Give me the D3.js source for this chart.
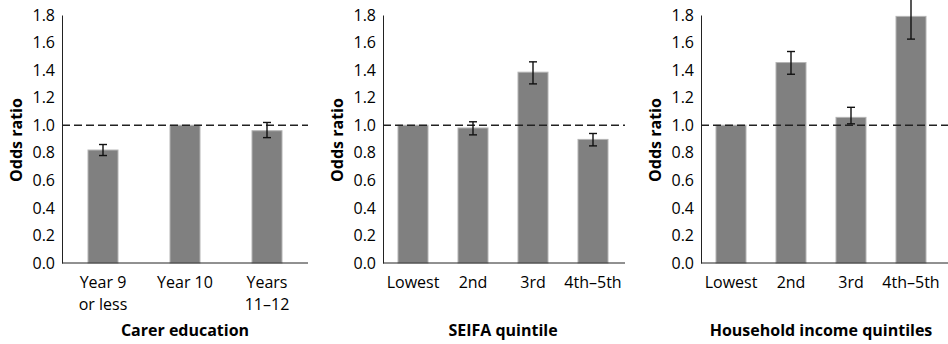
<!DOCTYPE html>
<html>
<head>
<meta charset="utf-8">
<script src="https://cdn.jsdelivr.net/npm/d3@7"></script>
<style>
  body { margin: 0; background: #fff; }
  svg { display: block; font-family: "Open Sans", sans-serif; }
</style>
</head>
<body>
<svg width="948" height="344"></svg>
<script>
// data per paneel
const eduCats = ['Year 9|or less', 'Year 10', 'Years|11–12'];
const eduOR = [0.82, 1.0, 0.96];
const eduLow = [0.78, null, 0.91];
const eduHigh = [0.86, null, 1.02];

const seifaCats = ['Lowest', '2nd', '3rd', '4th–5th'];
const seifaOR = [1.0, 0.98, 1.385, 0.897];
const seifaLow = [null, 0.93, 1.30, 0.85];
const seifaHigh = [null, 1.025, 1.46, 0.94];

const incomeCats = ['Lowest', '2nd', '3rd', '4th–5th'];
const incomeOR = [1.0, 1.455, 1.057, 1.79];
const incomeLow = [null, 1.37, 1.01, 1.625];
const incomeHigh = [null, 1.535, 1.13, 1.92];

const yTicks = [0, 0.2, 0.4, 0.6, 0.8, 1.0, 1.2, 1.4, 1.6, 1.8];

const svg = d3.select('svg');

const panels = [
    {title: 'Carer education', cats: eduCats, or: eduOR, lo: eduLow, hi: eduHigh, x0: 62, w: 246, lineEnd: 308},
    {title: 'SEIFA quintile', cats: seifaCats, or: seifaOR, lo: seifaLow, hi: seifaHigh, x0: 383, w: 240, lineEnd: 625},
    {title: 'Household income quintiles', cats: incomeCats, or: incomeOR, lo: incomeLow, hi: incomeHigh, x0: 701, w: 240, lineEnd: 948}
];

const yscale = d3.scaleLinear().domain([0, 1.8]).range([263, 15]);

panels.forEach(p => {
    const g = svg.append('g');

    const xscale = d3.scaleBand().domain(p.cats).range([p.x0, p.x0 + p.w]);
    const cx = c => xscale(c) + xscale.bandwidth() / 2;
    const barW = 30;

    // bars
    g.selectAll('rect').data(p.cats)
        .enter()
        .append('rect')
            .attr('x', d => cx(d) - barW / 2)
            .attr('y', (d, i) => yscale(p.or[i]))
            .attr('width', barW)
            .attr('height', (d, i) => yscale(0) - yscale(p.or[i]))
            .attr('fill', '#808080')
            .attr('stroke', '#b4b4b4')
            .attr('stroke-width', 1);

    // referentielijn op 1.0
    g.append('line')
        .attr('x1', p.x0).attr('x2', p.lineEnd)
        .attr('y1', yscale(1)).attr('y2', yscale(1))
        .attr('stroke', '#222')
        .attr('stroke-width', 1.4)
        .attr('stroke-dasharray', '8,4');

    // foutbalken
    const err = p.cats.map((c, i) => ({c, lo: p.lo[i], hi: p.hi[i]})).filter(d => d.lo !== null);
    const eg = g.selectAll('g.err').data(err).enter().append('g').attr('class', 'err')
        .attr('stroke', '#111').attr('stroke-width', 1.4);
    eg.append('line')
        .attr('x1', d => cx(d.c)).attr('x2', d => cx(d.c))
        .attr('y1', d => yscale(d.lo)).attr('y2', d => yscale(d.hi));
    eg.append('line')
        .attr('x1', d => cx(d.c) - 4).attr('x2', d => cx(d.c) + 4)
        .attr('y1', d => yscale(d.lo)).attr('y2', d => yscale(d.lo));
    eg.append('line')
        .attr('x1', d => cx(d.c) - 4).attr('x2', d => cx(d.c) + 4)
        .attr('y1', d => yscale(d.hi)).attr('y2', d => yscale(d.hi));

    // y-as
    const yAxis = g.append('g')
        .attr('transform', `translate(${p.x0},0)`)
        .call(d3.axisLeft(yscale).tickValues(yTicks).tickFormat(d3.format('.1f')).tickSize(0).tickPadding(7));
    yAxis.select('.domain').attr('stroke', '#222');
    yAxis.selectAll('text').attr('font-size', 16).attr('fill', '#000').attr('font-family', '"Open Sans", sans-serif');

    // x-as lijn
    g.append('line')
        .attr('x1', p.x0).attr('x2', p.lineEnd)
        .attr('y1', yscale(0)).attr('y2', yscale(0))
        .attr('stroke', '#222');

    // categorie labels (met regelafbreking)
    const lbl = g.selectAll('text.cat').data(p.cats).enter().append('text')
        .attr('class', 'cat')
        .attr('x', d => cx(d))
        .attr('y', 288)
        .attr('text-anchor', 'middle')
        .attr('font-size', 16)
        .attr('fill', '#000');
    lbl.each(function(d) {
        d.split('|').forEach((t, k) => {
            d3.select(this).append('tspan').attr('x', cx(d)).attr('dy', k === 0 ? 0 : 22).text(t);
        });
    });

    // titel
    g.append('text')
        .attr('x', p.x0 + p.w / 2)
        .attr('y', 336)
        .attr('text-anchor', 'middle')
        .attr('font-size', 16)
        .attr('font-weight', 'bold')
        .attr('fill', '#000')
        .text(p.title);

    // y label
    g.append('text')
        .attr('transform', `translate(${p.x0 - 40},140) rotate(-90)`)
        .attr('text-anchor', 'middle')
        .attr('font-size', 16)
        .attr('font-weight', 'bold')
        .attr('fill', '#000')
        .text('Odds ratio');
});
</script>
</body>
</html>
